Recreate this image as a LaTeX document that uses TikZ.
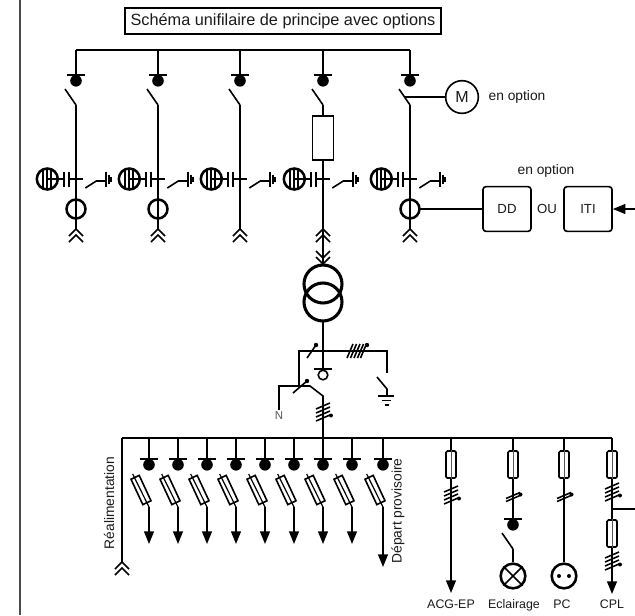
\documentclass[tikz,border=0pt]{standalone}
\usepackage{fontspec}
\setmainfont{Liberation Sans}
\usetikzlibrary{arrows.meta}
\definecolor{txt}{HTML}{1A1A1A}
\tikzset{
  x=0.75pt,y=-0.75pt,
  wire/.style={line width=1.2pt,line cap=butt,line join=miter},
  thin wire/.style={line width=0.9pt},
  heavy/.style={line width=1.9pt},
  lbl/.style={inner sep=0pt,anchor=base,text=txt,font=\fontsize{9.3}{11}\selectfont},
  opt/.style={inner sep=0pt,text=txt,font=\fontsize{10.35}{12}\selectfont},
  ibox/.style={draw,wire,rounded corners=2.2pt,minimum width=36pt,minimum height=33.5pt,inner sep=0pt,text=txt,font=\fontsize{9.9}{12}\selectfont},
  head/.style={-{Triangle[length=9.5pt,width=7.4pt]}},
  brk/.pic={\fill (0,5.8) circle (5.8);\draw[wire] (-9,0)--(9,0);},
  blade/.pic={\draw[wire] (-11,-16)--(0,0);},
  chevu/.pic={\draw[wire] (-7,7)--(0,0)--(7,7) (-7,13)--(0,6)--(7,13);},
  chevd/.pic={\draw[wire] (-7,-7)--(0,0)--(7,-7) (-7,-13)--(0,-6)--(7,-13);},
  ct/.pic={\draw[heavy,fill=white] (0,0) circle (9.5);\draw[wire] (0,-9.5)--(0,9.5);},
  capset/.pic={
    \draw[heavy] (-28.7,0) circle (10.5);
    \draw[thin wire] (-33,-9.5)--(-33,9.5) (-29,-10.5)--(-29,10.5) (-25,-10)--(-25,10) (-29,0)--(-11.7,0);
    \draw[wire] (-12,-7.5)--(-12,7.5) (-7,-7.5)--(-7,7.5) (-7,0)--(7.3,0);
    \draw[wire] (9.3,9)--(20.3,2)--(29.3,2);
    \draw[wire] (30,-7.5)--(30,7.5) (33,-4.5)--(33,4.5);
    \draw[line width=1.4pt] (35,-2.5)--(35,2.5);},
  sfuse/.pic={
    \draw[wire,fill=white] (-18,20.2)--(-9.8,16.4)--(2,41.8)--(-6.2,45.6)--cycle;
    \draw[thin wire] (-16.3,15)--(0,48);},
  slash/.pic={\draw[wire] (-7,3)--(7,-3) (-7,6)--(7,0);\fill (7.5,-1) circle (2);},
  multi/.pic={\draw[wire] (-7,-3)--(7,-9) (-7,1)--(7,-5) (-7,5)--(7,-1) (-7,9)--(7,3);\fill (8,3.5) circle (2);},
  vfuse/.style={draw,wire,fill=white,rounded corners=1pt,minimum width=7.5pt,minimum height=20.2pt,inner sep=0pt},
  fusecore/.style={line width=0.6pt,color=black!65},
}
\begin{document}
\begin{tikzpicture}
\useasboundingbox (0,0) rectangle (635,615);
\fill[white] (0,0) rectangle (635,615);
\draw[line width=1.5pt,color=black!70] (19.5,0)--(19.5,615);

% title
\node[draw,wire,minimum width=237pt,minimum height=19.5pt,inner sep=0pt,text=txt,font=\fontsize{12.2}{14}\selectfont] (title) at (283,20.7) {Schéma unifilaire de principe avec options};

% top bus and five cells
\coordinate (b1) at (76,50);
\coordinate (b5) at (410,50);
\draw[wire] (b1)--(b5);
\foreach \n/\x in {1/76,2/158,3/240,4/323,5/410}{
  \coordinate (top\n) at (\x,50);
  \coordinate (bar\n) at (\x,75);
  \coordinate (hinge\n) at (\x,105);
  \coordinate (cab\n) at (\x,229);
  \draw[wire] (top\n)--(bar\n);
  \pic at (bar\n) {brk};
  \pic at (hinge\n) {blade};
  \draw[wire] (hinge\n)--(cab\n);
  \pic at (\x,179) {capset};
  \pic at (cab\n) {chevu};
}
\foreach \n/\x in {1/76,2/158,5/410}{\pic at (\x,209) {ct};}

% motor option
\node[draw,wire,circle,minimum size=24.5pt,inner sep=0pt,text=txt,font=\fontsize{12}{14}\selectfont] (M) at (462,97) {M};
\coordinate (mlink) at (405,97);
\draw[wire] (mlink)--(M);
\node[opt] (opt1) at (517,97) {en option};

% fuse of cell 4 and transformer
\node[draw,wire,fill=white,minimum width=15.5pt,minimum height=33pt,inner sep=0pt] (F4) at (323,138) {};
\coordinate (cabd) at (323,264);
\draw[wire] (cab4)--(cabd);
\pic at (cabd) {chevd};
\draw[line width=2.3pt] (323,284) circle (19) (323,302) circle (19);
\coordinate (tout) at (323,321);
\coordinate (bus3) at (323,438);

% protection DD / ITI
\node[ibox] (DD) at (507,209) {DD};
\node[ibox] (ITI) at (588,209) {ITI};
\node[font=\fontsize{9.9}{12}\selectfont,text=txt,inner sep=0pt] (ou) at (547,209) {OU};
\node[opt] (opt2) at (546,171) {en option};
\coordinate (ct5) at (419.5,209);
\coordinate (ext) at (635,209);
\draw[wire] (ct5)--(DD);
\draw[wire,head] (ext)--(ITI);

% LV group
\coordinate (hsplit) at (323,351);
\coordinate (hl) at (299,351);
\coordinate (hr) at (387,351);
\coordinate (barc) at (323,369);
\draw[wire] (tout)--(barc);
\draw[wire] (314,369)--(332,369);
\draw[wire] (323,375) circle (4.8);
\draw[wire] (299,386)--(hl)--(hr)--(387,373);
\draw[wire] (307,358)--(316,345);
\fill (316,345) circle (2.2);
\draw[wire] (347,358)--(353,344) (350.5,358)--(356.5,344) (354,358)--(360,344) (357.5,358)--(363.5,344) (360.5,358)--(366,345);
\fill (367,345) circle (2.2);
\draw[wire] (377,377)--(387,389)--(387,396);
\draw[wire] (378,396)--(394,396);
\draw[wire] (382,400.5)--(391,400.5);
\draw[wire] (384.5,405)--(389,405);
\node[inner sep=0pt,text=black!65,font=\fontsize{8.6}{10}\selectfont] (N) at (279,416) {N};
\coordinate (nl) at (279,386);
\coordinate (kink) at (310,386);
\coordinate (kink2) at (323,396);
\draw[wire] (N.north)++(0,-2) -- (nl)--(kink)--(kink2)--(bus3);
\draw[wire] (293,393)--(307,381);
\fill (307,381) circle (2.2);
\pic at (323,412) {multi};

% bottom bus
\coordinate (busl) at (122,438);
\coordinate (busr) at (612,438);
\draw[wire] (busl)--(busr);
\coordinate (reala) at (122,562);
\draw[wire] (busl)--(reala);
\pic at (reala) {chevu};
\node[opt,rotate=90] (real) at (109,503) {Réalimentation};
\node[opt,rotate=90] (depart) at (398,511) {Départ provisoire};

\foreach \n/\x/\e in {1/149/544,2/178/544,3/207/544,4/236/544,5/265/544,6/294/544,7/323/544,8/352/544,9/383/567}{
  \coordinate (ft\n) at (\x,438);
  \coordinate (fb\n) at (\x,459);
  \coordinate (fo\n) at (\x,507);
  \coordinate (fe\n) at (\x,\e);
  \draw[wire] (ft\n)--(fb\n);
  \pic at (fb\n) {brk};
  \pic at (\x,459) {sfuse};
  \draw[wire,head] (fo\n)--(fe\n);
}

% right feeders
\coordinate (a0) at (451,438);
\coordinate (a1) at (451,593);
\draw[wire,head] (a0)--(a1);
\node[vfuse] (fa) at (451,464.5) {};
\draw[fusecore] (fa.north)--(fa.south);
\pic at (451,495) {multi};
\node[lbl] (la) at (451,608.5) {ACG-EP};

\coordinate (e0) at (513,438);
\coordinate (e1) at (513,519);
\draw[wire] (e0)--(e1);
\node[vfuse] (fe) at (513,464.5) {};
\draw[fusecore] (fe.north)--(fe.south);
\pic at (513,495.5) {slash};
\pic at (e1) {brk};
\coordinate (e2) at (513,549);
\pic at (e2) {blade};
\node[draw,heavy,circle,minimum size=18.5pt,inner sep=0pt] (lamp) at (513,576) {};
\draw[wire] (e2)--(lamp);
\draw[wire] (lamp.north west)--(lamp.south east) (lamp.north east)--(lamp.south west);
\node[lbl] (le) at (514,608.5) {Eclairage};

\coordinate (p0) at (564,438);
\node[draw,heavy,circle,minimum size=18.5pt,inner sep=0pt] (plug) at (564,576) {};
\draw[wire] (p0)--(plug);
\node[vfuse] (fp) at (564,464.5) {};
\draw[fusecore] (fp.north)--(fp.south);
\pic at (564,495.5) {slash};
\fill (559,576) circle (2) (569,576) circle (2);
\node[lbl] (lp) at (562,608.5) {PC};

\coordinate (c0) at (612,438);
\coordinate (c1) at (612,594);
\coordinate (c2) at (612,509);
\coordinate (c3) at (635,509);
\draw[wire,head] (c0)--(c1);
\draw[wire] (c2)--(c3);
\node[vfuse] (fc1) at (612,464.5) {};
\draw[fusecore] (fc1.north)--(fc1.south);
\node[vfuse] (fc2) at (612,533.5) {};
\draw[fusecore] (fc2.north)--(fc2.south);
\pic at (612,492) {multi};
\pic at (612,561) {multi};
\node[lbl] (lc) at (612,608.5) {CPL};
\end{tikzpicture}
\end{document}
